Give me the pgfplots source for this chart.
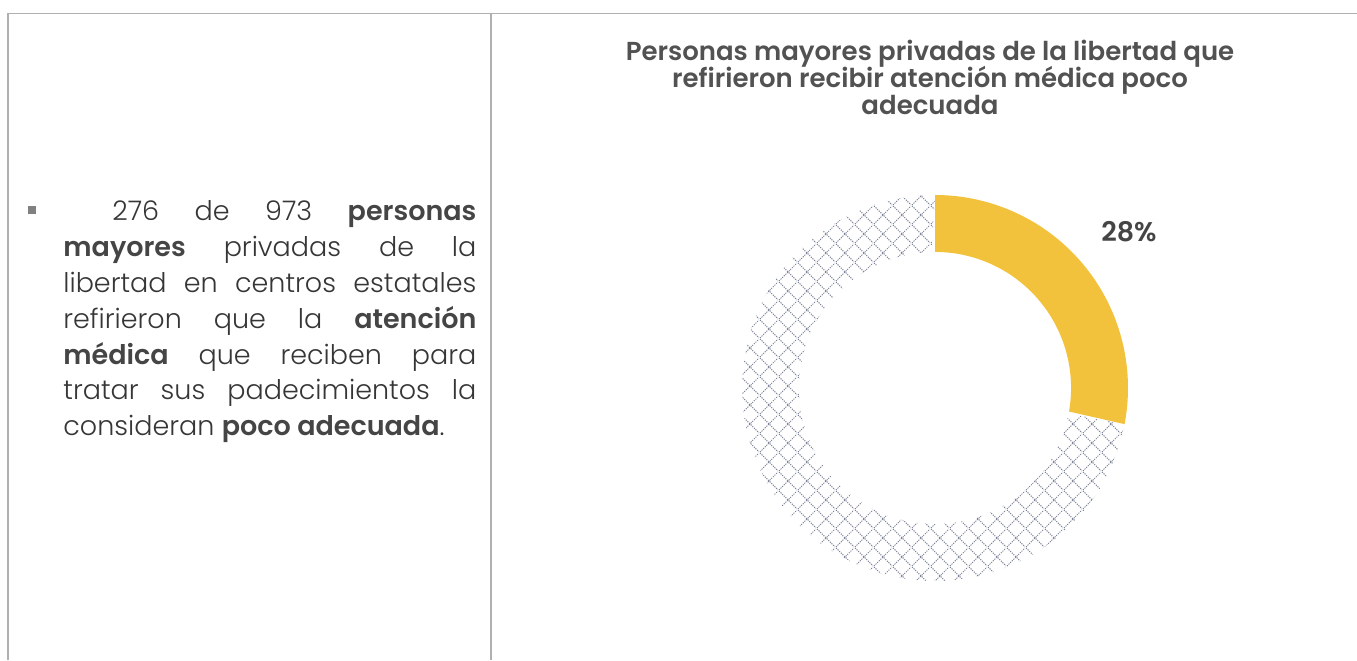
\documentclass[border=0pt]{standalone}
\usepackage{pgfplots}
\pgfplotsset{compat=1.18}
\usepackage{pgfplotstable}
\usetikzlibrary{patterns.meta}
\usepackage{fontspec}
\setmainfont{Poppins}[UprightFont={* Light}, BoldFont={* SemiBold}]
\definecolor{amar}{HTML}{F2C23C}
\definecolor{hatch}{HTML}{7E8499}
\definecolor{txt}{HTML}{363636}
\definecolor{txtb}{HTML}{454545}
\definecolor{ttl}{HTML}{525252}
\definecolor{frm}{HTML}{B0B0B0}

\tikzdeclarepattern{
  name=dcross,
  type=uncolored,
  bottom left={(0pt,0pt)},
  top right={(9.5pt,9.5pt)},
  tile size={(9.5pt,9.5pt)},
  code={\draw[line width=0.55pt, dash pattern=on 0.6pt off 0.6pt] (0pt,0pt) -- (9.5pt,9.5pt) (0pt,9.5pt) -- (9.5pt,0pt);}
}

\pgfplotstableread{
parte valor
poco 28
resto 72
}\datos

\newcommand\jl[1]{\makebox[206.5pt][s]{#1}\\}

\begin{document}
\begin{tikzpicture}[x=0.5pt,y=0.5pt]
\pgfplotstablegetelem{0}{valor}\of\datos \let\va\pgfplotsretval
\pgfplotstablegetelem{1}{valor}\of\datos \let\vb\pgfplotsretval
\pgfmathsetmacro{\aA}{90}
\pgfmathsetmacro{\aB}{90-\va/(\va+\vb)*360}
\pgfmathsetmacro{\aC}{\aB-\vb/(\va+\vb)*360}
\path[use as bounding box] (0,0) rectangle (1357,660);
\coordinate (dc) at (935,272);
% frame
\draw[frm, line width=0.6pt] (8,0) -- (8,646.5) -- (1357,646.5);
\draw[frm, line width=0.6pt] (491,0) -- (491,646.5);
% title
\node[anchor=base, inner sep=0, text=ttl, font=\bfseries\fontsize{13}{15}\selectfont] at (930,599) {Personas mayores privadas de la libertad que};
\node[anchor=base, inner sep=0, text=ttl, font=\bfseries\fontsize{13}{15}\selectfont] at (930,572) {refirieron recibir atención médica poco};
\node[anchor=base, inner sep=0, text=ttl, font=\bfseries\fontsize{13}{15}\selectfont] at (930,545) {adecuada};
% donut
\begin{axis}[at={(dc)}, anchor=center, x=96.5pt, y=96.5pt,
  xmin=-1, xmax=1, ymin=-1, ymax=1, hide axis, scale only axis, clip=false]
\addplot[draw=none, fill=amar, variable=\t, domain=0:2, samples=241]
  ({ifthenelse(\t<1.001,1,0.705)*cos(\aA+(\aB-\aA)*min(\t,2-\t))},
   {ifthenelse(\t<1.001,1,0.705)*sin(\aA+(\aB-\aA)*min(\t,2-\t))});
\addplot[draw=none, pattern=dcross, pattern color=hatch, variable=\t, domain=0:2, samples=361]
  ({ifthenelse(\t<1.001,1,0.705)*cos(\aB+(\aC-\aB)*min(\t,2-\t))},
   {ifthenelse(\t<1.001,1,0.705)*sin(\aB+(\aC-\aB)*min(\t,2-\t))});
\end{axis}
\node[anchor=base, inner sep=0, text=txtb, font=\bfseries\fontsize{13.5}{15}\selectfont] at (1129,418) {\va\%};
% left text
\fill[gray] (28,446) rectangle (36,454);
\node[anchor=base west, inner sep=0, align=left, text=txt,
  font=\fontsize{13.5}{18}\selectfont] at (63,224)
  {\jl{\hspace*{24.5pt}276 de 973 {\color{txtb}\bfseries personas}}
   \jl{{\color{txtb}\bfseries mayores} privadas de la}
   \jl{libertad en centros estatales}
   \jl{refirieron que la {\color{txtb}\bfseries atención}}
   \jl{{\color{txtb}\bfseries médica} que reciben para}
   \jl{tratar sus padecimientos la}
   consideran {\color{txtb}\bfseries poco adecuada}.};
\end{tikzpicture}
\end{document}
